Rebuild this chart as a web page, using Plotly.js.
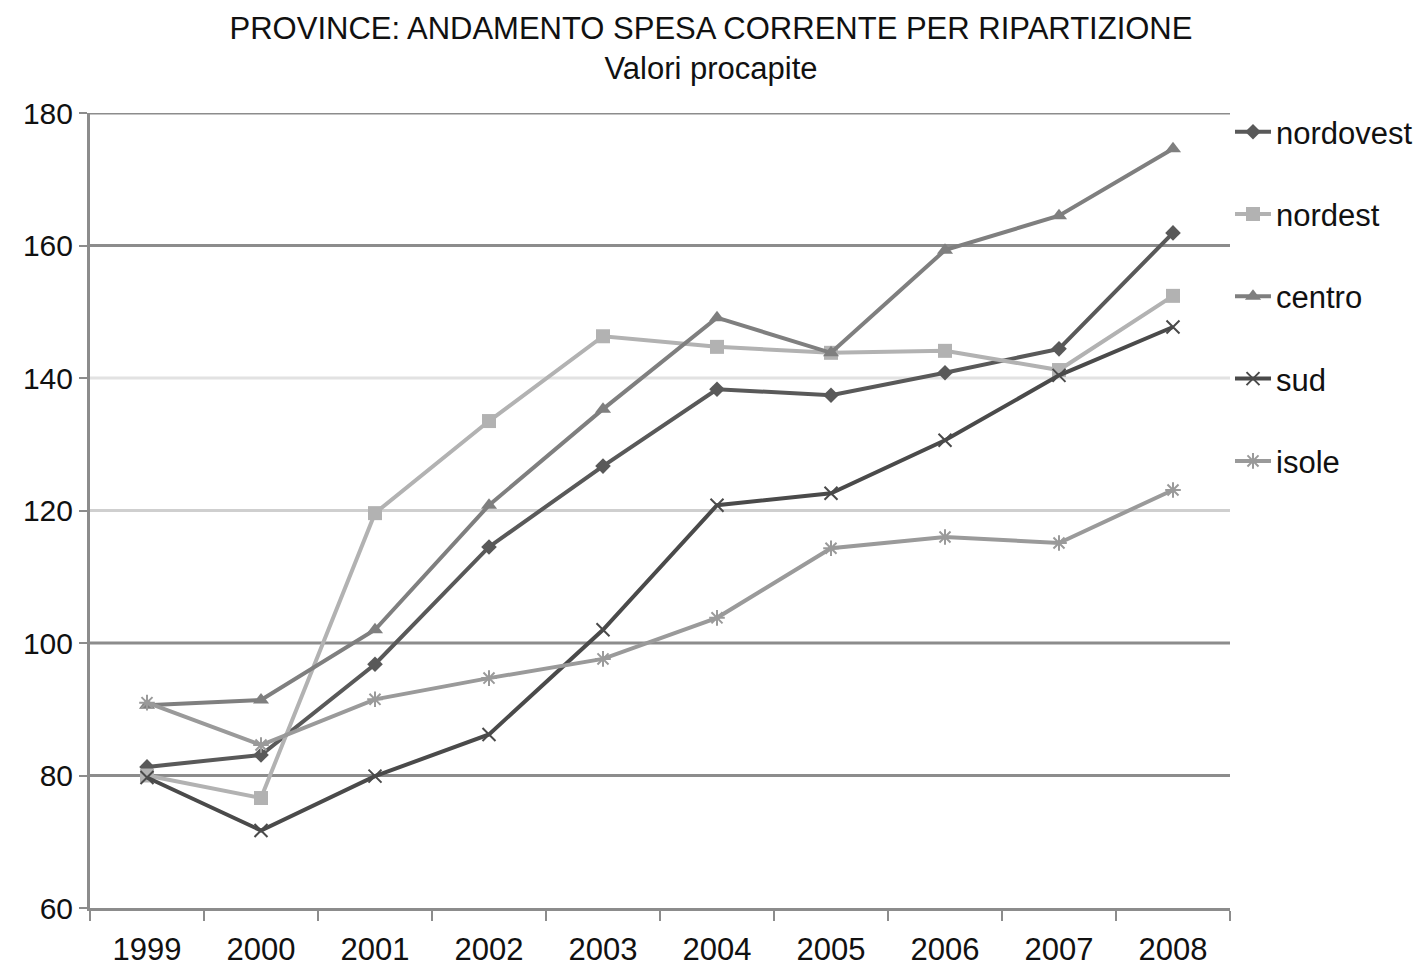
<!DOCTYPE html>
<html><head><meta charset="utf-8">
<script src="https://cdn.plot.ly/plotly-3.0.1.min.js"></script>
<style>html,body{margin:0;padding:0;background:#fff}</style>
</head><body>
<div id="chart" style="width:1422px;height:968px"></div>
<script>
const years = ['1999','2000','2001','2002','2003','2004','2005','2006','2007','2008'];
const nordovest = [81.3, 83.1, 96.8, 114.5, 126.7, 138.3, 137.4, 140.8, 144.4, 161.9];
const nordest   = [80.0, 76.6, 119.6, 133.5, 146.3, 144.7, 143.8, 144.1, 141.2, 152.4];
const centro    = [90.6, 91.4, 102.0, 120.8, 135.3, 149.1, 143.8, 159.3, 164.5, 174.6];
const sud       = [79.7, 71.7, 79.9, 86.2, 102.0, 120.8, 122.6, 130.6, 140.4, 147.7];
const isole     = [91.0, 84.6, 91.5, 94.7, 97.6, 103.8, 114.3, 116.0, 115.1, 123.1];
const gridValues = [80, 100, 120, 140, 160, 180];
const gridColors = ['#8c8c8c', '#8c8c8c', '#cfcfcf', '#e2e2e2', '#8c8c8c', '#8c8c8c'];

const font = 'Liberation Sans, Arial, sans-serif';
function tr(name, y, color, symbol, size, lw) {
  return {x: years, y: y, name: name, type: 'scatter', mode: 'lines+markers',
    legendgroup: name,
    line: {color: color, width: lw},
    marker: {color: color, symbol: symbol, size: size, line: {color: color, width: symbol.indexOf('x')>=0||symbol.indexOf('asterisk')>=0 ? 2 : 0}}};
}
const data = [
  tr('nordovest', nordovest, '#595959', 'diamond', 12, 4),
  tr('nordest', nordest, '#b2b2b2', 'square', 14, 4),
  tr('centro', centro, '#7f7f7f', 'triangle-up', 14, 4),
  tr('sud', sud, '#4a4a4a', 'x-thin-open', 13, 4),
  tr('isole', isole, '#9a9a9a', 'asterisk-open', 13, 4)
];
const shapes = gridValues.map((v, i) => ({type: 'line', xref: 'paper', yref: 'y', x0: 0, x1: 1, y0: v, y1: v,
  line: {color: gridColors[i], width: 3}, layer: 'below'}));
const layout = {
  width: 1422, height: 968,
  margin: {l: 90, r: 192, t: 113, b: 60, autoexpand: false},
  paper_bgcolor: '#fff', plot_bgcolor: '#fff',
  font: {family: font, color: '#111', size: 31},
  title: {text: 'PROVINCE: ANDAMENTO SPESA CORRENTE PER RIPARTIZIONE<br>Valori procapite',
    x: 0.5, xanchor: 'center', xref: 'container', yref: 'container', y: 0.96, yanchor: 'top',
    font: {family: font, size: 31, color: '#111'}},
  showlegend: true,
  legend: {x: 1.0, xanchor: 'left', y: 1.01, yanchor: 'top', font: {family: font, size: 31, color: '#111'},
    tracegroupgap: 39, itemwidth: 36, bgcolor: 'rgba(0,0,0,0)'},
  xaxis: {type: 'category', range: [-0.5, 9.5], showgrid: false, showline: true, linecolor: '#8c8c8c', linewidth: 3,
    ticks: 'outside', tickson: 'boundaries', ticklen: 10, tickcolor: '#8c8c8c', tickwidth: 2,
    ticklabelstandoff: 12, automargin: false,
    tickfont: {family: font, size: 31, color: '#111'}, zeroline: false},
  yaxis: {range: [60, 180], dtick: 20, showgrid: false, showline: true, linecolor: '#8c8c8c', linewidth: 3,
    ticks: 'outside', ticklen: 8, tickcolor: '#8c8c8c', tickwidth: 2, zeroline: false, automargin: false,
    tickfont: {family: font, size: 30, color: '#111'}},
  shapes: shapes
};
Plotly.newPlot('chart', data, layout, {displayModeBar: false});
</script>
</body></html>
